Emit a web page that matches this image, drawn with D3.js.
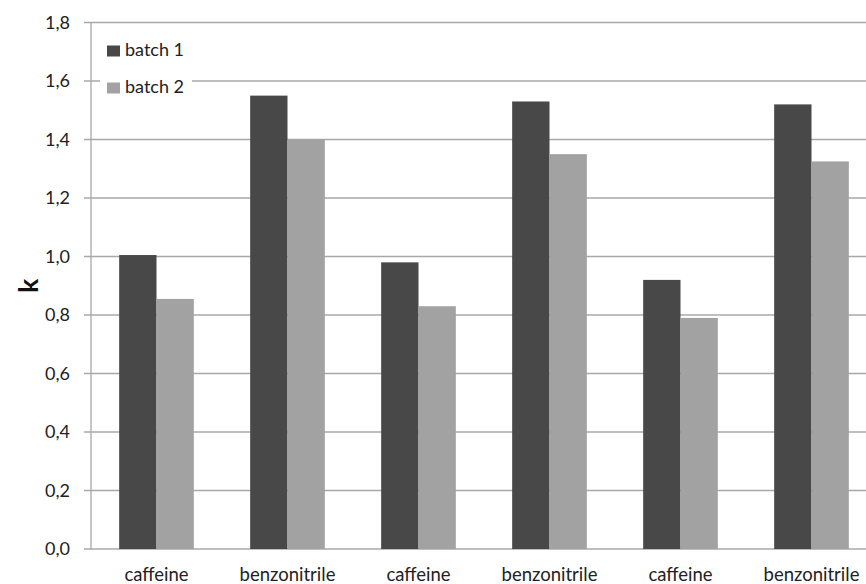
<!DOCTYPE html>
<html>
<head>
<meta charset="utf-8">
<script src="https://cdn.jsdelivr.net/npm/d3@7/dist/d3.min.js"></script>
<style>
  html, body { margin: 0; padding: 0; background: #fff; }
  svg { display: block; font-family: Lato, "Open Sans", sans-serif; }
</style>
</head>
<body>
<svg id="chart" width="866" height="584"></svg>
<script>
// Retention factor k per compound and batch
const categories = ["caffeine", "benzonitrile", "caffeine", "benzonitrile", "caffeine", "benzonitrile"];
const seriesNames = ["batch 1", "batch 2"];
const batch1 = [1.005, 1.55, 0.98, 1.53, 0.92, 1.52];
const batch2 = [0.855, 1.40, 0.83, 1.35, 0.79, 1.325];
const yTicks = [0, 0.2, 0.4, 0.6, 0.8, 1.0, 1.2, 1.4, 1.6, 1.8];
const colors = ["#484848", "#a2a2a2"];

const svg = d3.select("#chart");
const W = 866, H = 584;
const plotLeft = 91, plotRight = 877, plotTop = 22.5, plotBottom = 549;

const x = d3.scaleBand().domain(d3.range(categories.length)).range([plotLeft, plotRight])
  .paddingInner(0).paddingOuter(0);
const groupPad = 0.215; // fraction of band left empty on each side
const inner = d3.scaleBand().domain(seriesNames)
  .range([0, x.bandwidth() * (1 - 2 * groupPad)]);
const y = d3.scaleLinear().domain([0, 1.8]).range([plotBottom, plotTop]);

const fmt = v => d3.format(".1f")(v).replace(".", ",");

// gridlines
svg.append("g").selectAll("line").data(yTicks).join("line")
  .attr("x1", plotLeft - 7).attr("x2", W)
  .attr("y1", d => y(d)).attr("y2", d => y(d))
  .attr("stroke", "#a8a8a8").attr("stroke-width", 1.3);

// y axis line
svg.append("line").attr("x1", plotLeft).attr("x2", plotLeft)
  .attr("y1", y(1.8)).attr("y2", y(0))
  .attr("stroke", "#a8a8a8").attr("stroke-width", 1.3);

// y tick labels
svg.append("g").selectAll("text").data(yTicks).join("text")
  .attr("x", 70).attr("y", d => y(d)).attr("dy", "0.35em")
  .attr("text-anchor", "end").attr("font-size", 18).attr("fill", "#222")
  .text(fmt);

// y axis title
svg.append("text")
  .attr("transform", `translate(38,${(plotTop + plotBottom) / 2}) rotate(-90)`)
  .attr("text-anchor", "middle")
  .attr("font-size", 26).attr("font-weight", "bold").attr("fill", "#111")
  .text("k");

// bars
const series = [batch1, batch2];
series.forEach((vals, si) => {
  svg.append("g").selectAll("rect").data(vals).join("rect")
    .attr("x", (d, i) => x(i) + x.bandwidth() * groupPad + inner(seriesNames[si]))
    .attr("width", inner.bandwidth())
    .attr("y", d => y(d))
    .attr("height", d => y(0) - y(d))
    .attr("fill", colors[si]);
});

// category labels
svg.append("g").selectAll("text").data(categories).join("text")
  .attr("x", (d, i) => x(i) + x.bandwidth() / 2)
  .attr("y", 581)
  .attr("text-anchor", "middle").attr("font-size", 18.5).attr("fill", "#222")
  .text(d => d);

// legend
const lg = svg.append("g");
lg.append("rect").attr("x", 100).attr("y", 32).attr("width", 92).attr("height", 68).attr("fill", "#fff");
seriesNames.forEach((name, i) => {
  const cy = 51 + i * 37;
  lg.append("rect").attr("x", 107).attr("y", cy - 5.5).attr("width", 13).attr("height", 11)
    .attr("fill", colors[i]);
  lg.append("text").attr("x", 125).attr("y", cy + 5)
    .attr("font-size", 18).attr("fill", "#222").text(name);
});
</script>
</body>
</html>
